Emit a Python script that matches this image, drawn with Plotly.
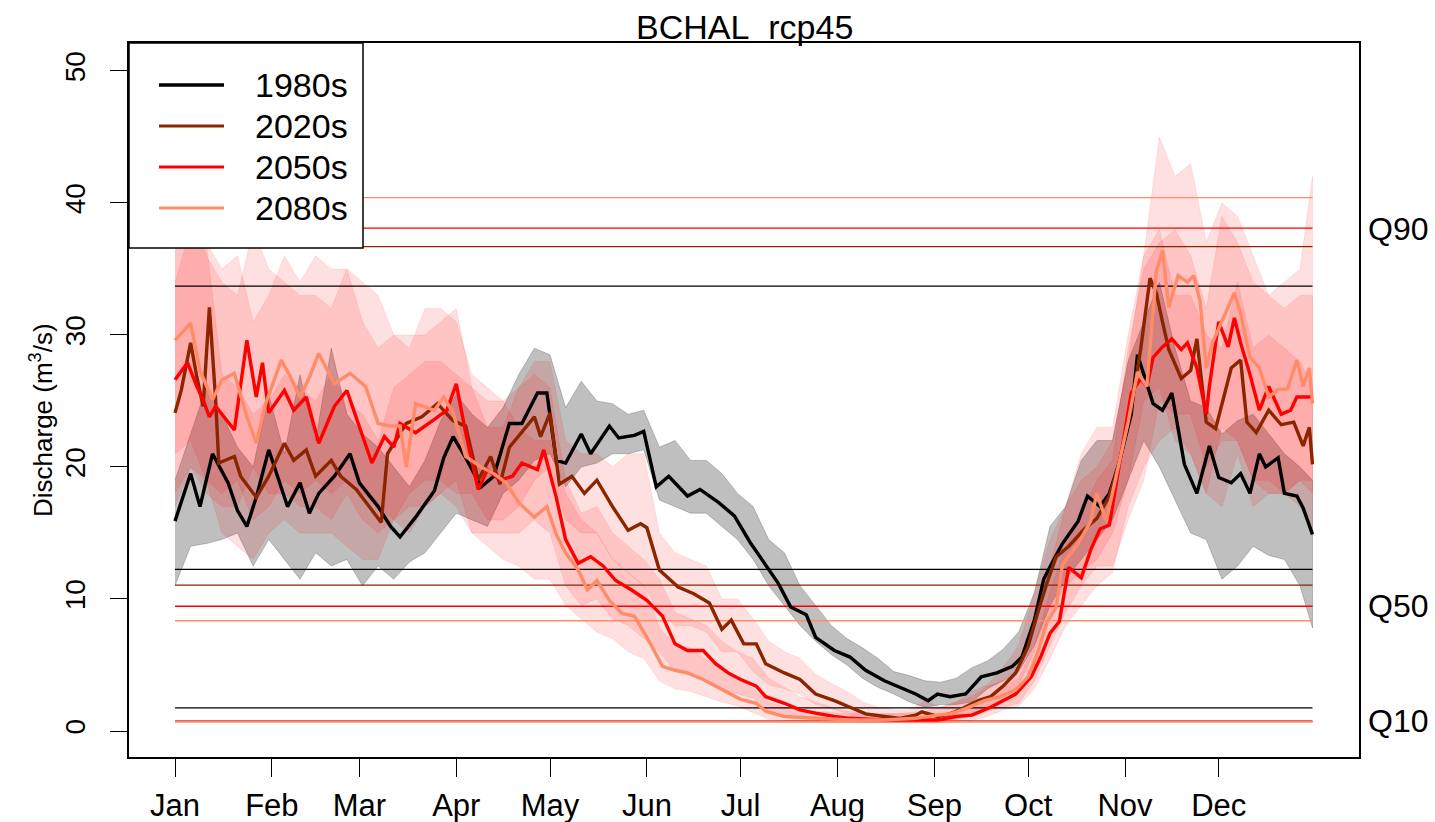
import plotly.graph_objects as go

# ---------------- data ----------------
month_days = [1, 32, 60, 91, 121, 152, 182, 213, 244, 274, 305, 335]
month_labels = ["Jan", "Feb", "Mar", "Apr", "May", "Jun", "Jul", "Aug", "Sep", "Oct", "Nov", "Dec"]
periods = ["1980s", "2020s", "2050s", "2080s"]

# mean daily discharge (day of year, value)
day_1980s = [1, 6, 9, 13, 18, 21, 24, 27, 31, 37, 41, 44, 47, 52, 57, 60, 66, 70, 73, 78,
             84, 87, 90, 94, 99, 103, 108, 112, 117, 120, 123, 126, 131, 134, 140, 143, 148, 151, 155, 159,
             165, 169, 175, 180, 185, 189, 194, 198, 203, 206, 212, 217, 222, 228, 233, 238, 242, 245, 249, 254,
             259, 264, 269, 272, 276, 279, 282, 285, 290, 293, 297, 300, 303, 307, 309, 314, 317, 320, 324, 328,
             332, 335, 339, 342, 345, 348, 350, 354, 356, 360, 362, 365]
mean_1980s = [15.9, 19.5, 17.0, 21.0, 18.8, 16.7, 15.5, 17.7, 21.3, 17.0, 18.8, 16.5, 18.0, 19.3, 21.0, 18.8, 17.0, 15.5, 14.7, 16.2,
              18.2, 20.7, 22.3, 20.7, 18.5, 19.3, 23.3, 23.3, 25.6, 25.6, 20.5, 20.3, 22.5, 21.0, 23.1, 22.2, 22.4, 22.7, 18.5, 19.3,
              17.8, 18.3, 17.3, 16.3, 14.3, 12.9, 11.2, 9.4, 8.8, 7.1, 6.1, 5.6, 4.6, 3.8, 3.3, 2.8, 2.3, 2.8, 2.6, 2.8,
              4.1, 4.4, 4.9, 5.6, 8.4, 11.5, 12.9, 14.2, 15.9, 17.8, 17.0, 18.0, 20.2, 24.0, 28.5, 24.8, 24.3, 25.6, 20.2, 18.0,
              21.6, 19.2, 18.8, 19.5, 18.0, 21.0, 20.0, 20.7, 18.0, 17.8, 16.9, 14.9]

day_2020s = [1, 3, 6, 8, 10, 12, 14, 15, 20, 22, 27, 31, 36, 39, 43, 46, 51, 54, 59, 64,
             67, 69, 75, 80, 85, 90, 94, 98, 102, 105, 108, 116, 118, 121, 124, 128, 132, 136, 141, 146,
             150, 152, 156, 162, 167, 172, 176, 179, 183, 187, 190, 196, 201, 206, 212, 217, 222, 228, 233, 238,
             240, 245, 249, 253, 258, 262, 266, 270, 274, 277, 280, 283, 287, 292, 296, 300, 303, 307, 310, 313,
             315, 317, 319, 323, 326, 328, 331, 334, 339, 342, 344, 347, 351, 355, 359, 362, 364, 365]
mean_2020s = [24.1, 25.8, 29.4, 26.8, 24.6, 32.1, 25.1, 20.3, 20.8, 19.3, 17.7, 19.3, 21.8, 20.5, 21.3, 19.3, 20.5, 19.3, 18.3, 16.7,
              15.8, 21.0, 23.3, 23.8, 24.8, 23.5, 23.1, 19.0, 20.8, 18.7, 21.5, 23.8, 22.3, 24.1, 18.7, 19.3, 18.0, 19.0, 17.0, 15.2,
              15.7, 15.4, 12.2, 10.9, 10.4, 9.7, 7.7, 8.4, 6.6, 6.6, 5.1, 4.4, 3.9, 2.8, 2.3, 1.8, 1.3, 1.1, 0.95, 1.2,
              1.45, 1.1, 1.3, 1.7, 2.3, 2.6, 3.4, 4.4, 6.4, 8.9, 11.2, 13.2, 14.0, 15.3, 16.1, 17.8, 20.2, 24.5, 28.9, 34.3,
              33.2, 31.0, 28.9, 26.7, 27.3, 29.7, 23.4, 22.9, 27.5, 28.1, 23.4, 22.6, 24.3, 23.2, 23.4, 21.6, 23.0, 20.2]

day_2050s = [1, 5, 8, 10, 12, 14, 20, 24, 27, 29, 31, 36, 39, 43, 47, 52, 56, 60, 64, 68,
             71, 73, 78, 84, 88, 91, 94, 98, 101, 105, 109, 112, 117, 119, 122, 123, 126, 130, 134, 138,
             142, 147, 152, 157, 161, 165, 170, 174, 178, 182, 187, 190, 196, 201, 206, 212, 217, 228, 238, 245,
             251, 256, 262, 266, 270, 275, 278, 281, 284, 287, 291, 294, 297, 300, 303, 307, 310, 312, 314, 317,
             320, 323, 325, 328, 331, 332, 335, 338, 340, 342, 345, 348, 351, 355, 358, 360, 365]
mean_2050s = [26.6, 27.9, 26.1, 25.1, 23.8, 24.6, 22.8, 29.6, 25.3, 27.9, 24.1, 25.8, 24.3, 25.3, 21.8, 24.6, 25.8, 23.1, 20.3, 22.3,
              21.5, 23.3, 22.6, 23.6, 24.3, 26.3, 22.6, 18.3, 19.8, 19.0, 19.3, 20.3, 19.8, 21.3, 18.7, 17.7, 14.5, 12.7, 13.2, 12.5,
              11.4, 10.7, 9.9, 8.7, 6.6, 6.1, 6.1, 5.1, 4.4, 3.9, 3.4, 2.6, 2.1, 1.6, 1.35, 1.1, 0.96, 0.83, 0.83, 0.83,
              1.1, 1.2, 1.8, 2.3, 2.8, 4.1, 5.6, 7.4, 8.3, 12.4, 11.6, 13.7, 15.3, 15.6, 19.9, 25.6, 26.7, 26.1, 28.3, 29.1,
              29.7, 28.9, 29.4, 27.5, 24.0, 26.1, 31.0, 29.1, 31.3, 29.4, 27.0, 24.3, 26.1, 24.0, 24.3, 25.3, 25.3]

day_2080s = [1, 4, 6, 9, 13, 16, 20, 24, 27, 30, 35, 38, 41, 44, 47, 52, 57, 62, 66, 70,
             73, 75, 78, 84, 87, 90, 94, 99, 103, 107, 111, 116, 120, 123, 126, 130, 133, 136, 140, 144,
             148, 152, 157, 161, 165, 170, 174, 178, 182, 187, 190, 196, 206, 217, 228, 238, 245, 249, 254, 260,
             265, 270, 274, 277, 280, 283, 285, 290, 294, 296, 299, 302, 306, 309, 312, 315, 317, 319, 322, 325,
             327, 329, 331, 333, 336, 340, 342, 345, 348, 351, 354, 357, 360, 362, 364, 365]
mean_2080s = [29.6, 30.4, 30.9, 27.3, 25.1, 26.6, 27.1, 23.8, 21.8, 24.8, 28.1, 26.8, 25.3, 26.8, 28.6, 26.3, 27.1, 26.1, 23.3, 23.1,
              23.1, 20.0, 24.8, 24.3, 25.3, 24.1, 20.8, 20.0, 19.5, 18.8, 17.3, 16.2, 17.0, 14.9, 13.5, 12.2, 10.7, 11.4, 9.9, 8.9,
              8.7, 7.1, 4.9, 4.6, 4.4, 3.9, 3.4, 2.9, 2.4, 2.1, 1.5, 1.1, 0.96, 0.83, 0.83, 0.96, 1.2, 1.3, 1.7, 2.3,
              2.6, 3.1, 4.1, 5.9, 8.2, 9.4, 12.6, 14.2, 15.9, 18.0, 15.9, 19.1, 23.4, 27.2, 26.1, 34.8, 36.4, 32.1, 34.5, 34.0,
              34.5, 32.6, 27.5, 29.4, 31.0, 33.2, 31.6, 28.3, 27.5, 25.3, 25.9, 25.9, 28.1, 26.1, 27.5, 24.8]

# envelope (min / max over ensemble), on a 5-day grid
band_days = [1, 6, 11, 16, 21, 26, 31, 36, 41, 46, 51, 56, 61, 66, 71, 76, 81, 86, 91, 96,
             101, 106, 111, 116, 121, 126, 131, 136, 141, 146, 151, 156, 161, 166, 171, 176, 181, 186, 191, 196,
             201, 206, 211, 216, 221, 226, 231, 236, 241, 246, 251, 256, 261, 266, 271, 276, 281, 286, 291, 296,
             301, 306, 311, 316, 321, 326, 331, 336, 341, 346, 351, 356, 361, 365]
lo_1980s = [11.0, 14.0, 14.2, 14.5, 15.0, 12.5, 14.5, 13.0, 11.5, 13.5,
            12.5, 13.0, 11.0, 12.5, 11.5, 12.8, 13.5, 15.0, 16.5, 16.0,
            15.5, 18.0, 19.0, 20.5, 21.0, 18.5, 20.0, 20.3, 21.0, 21.0,
            21.3, 17.5, 17.0, 16.5, 16.5, 15.5, 14.5, 13.0, 11.0, 9.5,
            8.0, 6.8, 5.8, 5.0, 4.0, 3.3, 2.8, 2.2, 1.8, 2.0,
            2.0, 2.2, 3.2, 3.8, 4.5, 6.5, 9.5, 11.5, 13.0, 14.5,
            16.0, 19.0, 22.0, 20.0, 17.5, 15.0, 14.5, 11.5, 12.5, 14.0,
            13.3, 13.0, 11.0, 7.8]
hi_1980s = [19.0, 22.5, 26.0, 24.0, 21.5, 20.0, 25.5, 21.0, 27.0, 22.0,
            29.0, 24.0, 22.5, 21.5, 20.0, 18.5, 20.5, 23.5, 25.5, 24.0,
            23.0, 24.5, 27.0, 29.0, 28.5, 24.5, 26.5, 25.0, 24.8, 24.0,
            24.3, 21.5, 22.0, 20.5, 20.5, 19.5, 18.0, 17.0, 14.5, 13.5,
            11.0, 9.5, 8.0, 7.0, 6.3, 5.5, 4.5, 4.2, 3.8, 3.7,
            4.0, 4.8, 5.3, 6.2, 7.5, 10.5, 15.5, 17.0, 20.5, 22.0,
            22.0, 28.0, 31.0, 34.0, 29.0, 25.0, 24.5, 22.5, 23.5, 24.0,
            22.5, 21.0, 20.0, 19.0]
lo_2020s = [17, 20, 19, 15, 14, 13, 15, 16, 15, 15,
            15, 14, 13, 13, 16, 18, 19, 19, 18, 18,
            16, 16, 17, 19, 20, 16, 15, 15, 13, 12,
            11, 9, 8, 8, 7.5, 6, 6, 4.5, 3.5, 3.2,
            2.8, 2, 1.7, 1.3, 1, 0.8, 0.7, 0.7, 0.9, 0.8,
            0.9, 1.4, 1.8, 2.5, 3.5, 6, 9, 11, 12, 13,
            15, 19, 25, 26, 22, 21, 18, 17, 21, 17,
            18, 18, 17, 15]
hi_2020s = [34, 38, 37, 27, 26, 24, 25, 27, 26, 25,
            27, 25, 24, 22, 26, 27, 28, 28, 27, 26,
            23, 23, 26, 28, 28, 22, 21, 21, 20, 21,
            21, 15, 13.5, 13, 12.5, 10, 10, 8.5, 6.8, 6,
            5.5, 4.3, 3.6, 3, 2.2, 1.8, 1.6, 1.6, 2.3, 1.8,
            2.2, 3, 3.5, 4.8, 6.5, 10.5, 14.5, 17, 19, 20,
            22, 28, 36, 38, 33, 33, 30, 29, 34, 29,
            30, 29, 28, 26]
lo_2050s = [18, 20, 18, 17, 17, 20, 18, 18, 17, 17,
            16, 18, 16, 15, 16, 17, 17, 18, 19, 15,
            15, 15, 15, 16, 15, 11, 9.5, 10, 8.5, 8,
            7, 6, 4.5, 4.2, 4, 3.2, 2.8, 2.5, 1.6, 1.3,
            1, 0.9, 0.75, 0.7, 0.65, 0.6, 0.6, 0.6, 0.6, 0.6,
            0.7, 0.8, 1.1, 1.6, 1.9, 3.2, 5.5, 8, 9.5, 11,
            12, 17, 20, 22, 23, 21, 18, 23, 22, 19,
            19, 18, 19, 19]
hi_2050s = [37, 40, 36, 34, 33, 38, 35, 34, 33, 33,
            32, 35, 31, 29, 30, 30, 30, 31, 32, 26,
            25, 25, 26, 27, 26, 19, 16.5, 17, 15, 14,
            13, 11.5, 9, 8.5, 8, 6.8, 6, 5.5, 4, 3.3,
            2.6, 2.2, 1.8, 1.5, 1.4, 1.3, 1.3, 1.3, 1.3, 1.3,
            1.5, 1.8, 2.4, 3.3, 4, 6.5, 10.5, 14, 16.5, 19,
            20.5, 29, 35, 37, 38, 36, 32, 39, 37, 34,
            33, 32, 33, 33]
lo_2080s = [21, 22, 19, 18, 19, 16, 17, 19, 18, 19,
            18, 19, 18, 17, 16, 15, 17, 18, 17, 15,
            14, 13, 12.5, 11.5, 11.5, 9.5, 8.5, 7.5, 7, 6,
            5.5, 3.8, 3.2, 3, 2.6, 2.2, 1.9, 1.4, 0.9, 0.8,
            0.7, 0.65, 0.6, 0.6, 0.6, 0.6, 0.6, 0.65, 0.65, 0.8,
            0.9, 1.1, 1.5, 1.8, 2.1, 3.8, 6.5, 9, 11, 12.5,
            12.5, 16, 19, 25, 24, 24, 20, 22, 22, 19,
            18, 18, 19, 18]
hi_2080s = [40, 42, 37, 35, 36, 31, 33, 36, 34, 36,
            35, 35, 34, 33, 30, 29, 32, 32, 31, 27,
            26, 25, 23, 22, 22, 18, 16, 15, 13, 12,
            11, 7.8, 6.5, 6.3, 5.4, 4.8, 4, 3.2, 2.2, 1.8,
            1.6, 1.5, 1.4, 1.3, 1.3, 1.3, 1.3, 1.4, 1.5, 1.8,
            2.2, 2.6, 3.4, 3.8, 4.5, 7.8, 12.5, 17, 21, 23,
            23, 30, 36, 45, 42, 43, 37, 40, 39, 36,
            33, 34, 35, 42]

q90 = [33.7, 36.7, 38.1, 40.4]
q50 = [12.25, 11.05, 9.45, 8.35]
q10 = [1.75, 0.75, 0.72, 0.70]
q_labels = ["Q90", "Q50", "Q10"]
q_label_vals = [38.0, 9.47, 0.73]

mean_days = [day_1980s, day_2020s, day_2050s, day_2080s]
means = [mean_1980s, mean_2020s, mean_2050s, mean_2080s]
los = [lo_1980s, lo_2020s, lo_2050s, lo_2080s]
his = [hi_1980s, hi_2020s, hi_2050s, hi_2080s]

# ---------------- styles ----------------
line_colors = ["#000000", "#8B2500", "#FF0000", "#FF8C69"]
band_colors = ["rgba(0,0,0,0.25)", "rgba(255,0,0,0.12)", "rgba(255,0,0,0.12)", "rgba(255,0,0,0.12)"]
FONT = "Liberation Sans, Arial, Helvetica, sans-serif"

W, H = 1435, 822
L, R, T, B = 129, 76, 43, 65
PW, PH = W - L - R, H - T - B


def px_x(p):
    return (p - L) / PW


def px_y(p):
    return (H - B - p) / PH


fig = go.Figure()

for lo, hi, bc in zip(los, his, band_colors):
    fig.add_trace(go.Scatter(
        x=band_days + band_days[::-1], y=hi + lo[::-1], mode="lines", fill="toself",
        fillcolor=bc, line=dict(color=bc, width=0.8), hoverinfo="skip", showlegend=False))

for qs in (q90, q50, q10):
    for q, c in zip(qs, line_colors):
        fig.add_trace(go.Scatter(
            x=[band_days[0], band_days[-1]], y=[q, q], mode="lines",
            line=dict(color=c, width=1.3), hoverinfo="skip", showlegend=False))

for d, m, c, name in zip(mean_days, means, line_colors, periods):
    fig.add_trace(go.Scatter(
        x=d, y=m, mode="lines", name=name,
        line=dict(color=c, width=3.4), showlegend=False))

shapes = []
annotations = []

# legend box
shapes.append(dict(type="rect", xref="paper", yref="paper",
                   x0=px_x(129), x1=px_x(363), y0=px_y(248), y1=px_y(43),
                   fillcolor="white", line=dict(color="black", width=1.5), layer="above"))
row_y = [85, 126, 167, 208]
for ry, c, name, lw in zip(row_y, line_colors, periods, [3.5, 3, 3, 3]):
    shapes.append(dict(type="line", xref="paper", yref="paper",
                       x0=px_x(159), x1=px_x(224), y0=px_y(ry), y1=px_y(ry),
                       line=dict(color=c, width=lw), layer="above"))
    annotations.append(dict(xref="paper", yref="paper", x=px_x(253), y=px_y(ry),
                            text=name, showarrow=False, xanchor="left", yanchor="middle",
                            font=dict(size=34, color="black", family=FONT)))

# Q labels on right
for lab, v in zip(q_labels, q_label_vals):
    annotations.append(dict(xref="paper", yref="y", x=px_x(1366), y=v, text=lab,
                            showarrow=False, xanchor="left", yanchor="middle",
                            font=dict(size=32, color="black", family=FONT)))

# title
annotations.append(dict(xref="paper", yref="paper", x=0.5, y=px_y(27),
                        text="BCHAL\u00a0 rcp45", showarrow=False, xanchor="center", yanchor="middle",
                        font=dict(size=34, color="black", family=FONT)))

# y label
annotations.append(dict(xref="paper", yref="paper", x=px_x(41), y=px_y(420),
                        text="Discharge (m<sup>3</sup>/s)", showarrow=False, textangle=-90,
                        xanchor="center", yanchor="middle",
                        font=dict(size=26, color="black", family=FONT)))

fig.update_layout(
    width=W, height=H,
    margin=dict(l=L, r=R, t=T, b=B, autoexpand=False),
    paper_bgcolor="white", plot_bgcolor="white",
    font=dict(family=FONT, color="black"),
    showlegend=False,
    shapes=shapes, annotations=annotations,
    xaxis=dict(range=[-13.72, 379.88], tickvals=month_days, ticktext=month_labels,
               ticks="outside", ticklen=18, tickwidth=1.3, tickcolor="black",
               showline=True, linecolor="black", linewidth=1.5, mirror=True,
               showgrid=False, zeroline=False, tickfont=dict(size=31, family=FONT),
               ticklabelstandoff=2, automargin=False),
    yaxis=dict(range=[-1.97, 52.12], tickvals=[0, 10, 20, 30, 40, 50],
               ticks="outside", ticklen=17, tickwidth=1.3, tickcolor="black",
               showline=True, linecolor="black", linewidth=1.5, mirror=True,
               showgrid=False, zeroline=False, tickangle=-90,
               tickfont=dict(size=28, family=FONT), ticklabelstandoff=14,
               automargin=False),
)

fig.write_html("out.html")
